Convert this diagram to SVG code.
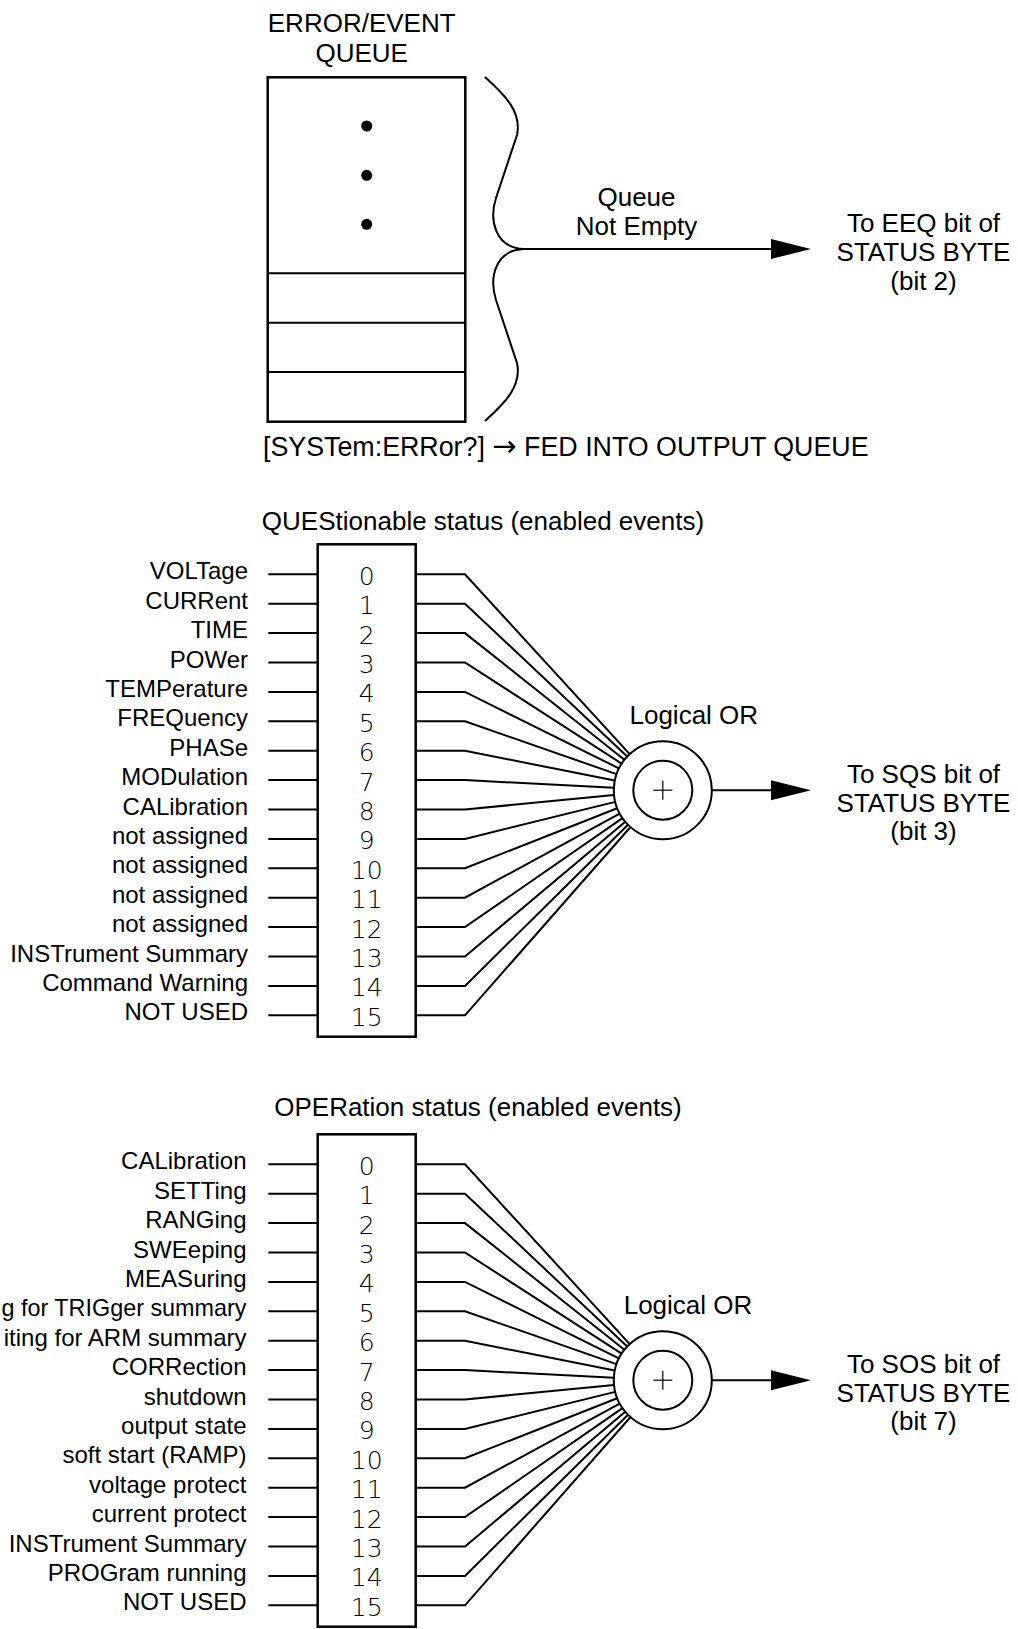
<svg xmlns="http://www.w3.org/2000/svg" width="1018" height="1629" viewBox="0 0 1018 1629">
<style>
text { font-family: "Liberation Sans", Arial, sans-serif; fill: #000; }
.t26 { font-size: 26px; }
.note { font-size: 26.8px; }
.mid { text-anchor: middle; }
.lbl { font-size: 24px; text-anchor: end; }
.num { font-family: "DejaVu Sans", sans-serif; font-weight: 200; font-size: 25px; text-anchor: middle; }
.arr { font-family: "DejaVu Sans", sans-serif; font-size: 29px; }
.box { fill: #fff; stroke: #000; stroke-width: 2.5; }
.ln { fill: none; stroke: #000; stroke-width: 2; }
.fan { fill: none; stroke: #000; stroke-width: 2; stroke-linejoin: miter; }
.orc { fill: #fff; stroke: #000; stroke-width: 2; }
.plus { stroke: #000; stroke-width: 1.2; }
.dot { fill: #000; }
</style>
<defs>
<marker id="ah" markerUnits="userSpaceOnUse" markerWidth="42" markerHeight="22" refX="1" refY="11" orient="auto">
<path d="M1,1 L41,11 L1,21 Z" fill="#000"/>
</marker>
</defs>
<rect width="1018" height="1629" fill="#fff"/>

<g id="error-queue">
<text class="t26 mid" x="361.7" y="32">ERROR/EVENT</text>
<text class="t26 mid" x="361.7" y="61.5">QUEUE</text>
<rect class="box" x="267.7" y="77.3" width="197.6" height="344.4"/>
<line class="ln" x1="267.7" y1="273.3" x2="465.3" y2="273.3"/>
<line class="ln" x1="267.7" y1="322.7" x2="465.3" y2="322.7"/>
<line class="ln" x1="267.7" y1="372" x2="465.3" y2="372"/>
<circle class="dot" cx="366.7" cy="126" r="5.5"/>
<circle class="dot" cx="366.7" cy="175.3" r="5.5"/>
<circle class="dot" cx="366.7" cy="224.3" r="5.5"/>
</g>

<g id="brace">
<path class="ln" d="M485,77 C505,95 522,112 517,135 L496,198 C489,220 495,248 524,249 C495,250 489,278 496,300 L517,363 C522,386 505,403 485,421"/>
</g>

<g id="queue-label">
<text class="t26 mid" x="636.5" y="205.7">Queue</text>
<text class="t26 mid" x="636.5" y="235">Not Empty</text>
</g>

<g id="eeq-target">
<text class="t26 mid" x="923.5" y="232">To EEQ bit of</text>
<text class="t26 mid" x="923.5" y="261">STATUS BYTE</text>
<text class="t26 mid" x="923.5" y="290">(bit 2)</text>
</g>

<g id="system-error-note">
<text class="note" x="263" y="456">[SYSTem:ERRor?] <tspan class="arr">→</tspan> FED INTO OUTPUT QUEUE</text>
</g>

<g id="connectors">
<line class="ln" x1="524" y1="249" x2="771" y2="249" marker-end="url(#ah)"/>
<g class="qin">
<line class="ln" x1="268.3" y1="574.3" x2="317.7" y2="574.3"/>
<line class="ln" x1="268.3" y1="603.7" x2="317.7" y2="603.7"/>
<line class="ln" x1="268.3" y1="633.1" x2="317.7" y2="633.1"/>
<line class="ln" x1="268.3" y1="662.5" x2="317.7" y2="662.5"/>
<line class="ln" x1="268.3" y1="691.9" x2="317.7" y2="691.9"/>
<line class="ln" x1="268.3" y1="721.3" x2="317.7" y2="721.3"/>
<line class="ln" x1="268.3" y1="750.7" x2="317.7" y2="750.7"/>
<line class="ln" x1="268.3" y1="780.1" x2="317.7" y2="780.1"/>
<line class="ln" x1="268.3" y1="809.5" x2="317.7" y2="809.5"/>
<line class="ln" x1="268.3" y1="838.9" x2="317.7" y2="838.9"/>
<line class="ln" x1="268.3" y1="868.3" x2="317.7" y2="868.3"/>
<line class="ln" x1="268.3" y1="897.7" x2="317.7" y2="897.7"/>
<line class="ln" x1="268.3" y1="927.1" x2="317.7" y2="927.1"/>
<line class="ln" x1="268.3" y1="956.5" x2="317.7" y2="956.5"/>
<line class="ln" x1="268.3" y1="985.9" x2="317.7" y2="985.9"/>
<line class="ln" x1="268.3" y1="1015.3" x2="317.7" y2="1015.3"/>
</g>
<g class="qfan">
<polyline class="fan" points="415.7,574.3 465,574.3 629.7,754.1"/>
<polyline class="fan" points="415.7,603.7 465,603.7 627.2,756.6"/>
<polyline class="fan" points="415.7,633.1 465,633.1 624.4,759.7"/>
<polyline class="fan" points="415.7,662.5 465,662.5 621.6,763.6"/>
<polyline class="fan" points="415.7,691.9 465,691.9 618.9,768.4"/>
<polyline class="fan" points="415.7,721.3 465,721.3 616.5,774.1"/>
<polyline class="fan" points="415.7,750.7 465,750.7 614.7,780.6"/>
<polyline class="fan" points="415.7,780.1 465,780.1 613.9,787.7"/>
<polyline class="fan" points="415.7,809.5 465,809.5 614.0,795.0"/>
<polyline class="fan" points="415.7,838.9 465,838.9 615.2,801.9"/>
<polyline class="fan" points="415.7,868.3 465,868.3 617.2,808.2"/>
<polyline class="fan" points="415.7,897.7 465,897.7 619.7,813.6"/>
<polyline class="fan" points="415.7,927.1 465,927.1 622.5,818.1"/>
<polyline class="fan" points="415.7,956.5 465,956.5 625.3,821.7"/>
<polyline class="fan" points="415.7,985.9 465,985.9 628.0,824.7"/>
<polyline class="fan" points="415.7,1015.3 465,1015.3 630.5,827.0"/>
</g>
<line class="ln" x1="711.8" y1="790.2" x2="771" y2="790.2" marker-end="url(#ah)"/>
<g class="oin">
<line class="ln" x1="268.3" y1="1164.3" x2="317.7" y2="1164.3"/>
<line class="ln" x1="268.3" y1="1193.7" x2="317.7" y2="1193.7"/>
<line class="ln" x1="268.3" y1="1223.1" x2="317.7" y2="1223.1"/>
<line class="ln" x1="268.3" y1="1252.5" x2="317.7" y2="1252.5"/>
<line class="ln" x1="268.3" y1="1281.9" x2="317.7" y2="1281.9"/>
<line class="ln" x1="268.3" y1="1311.3" x2="317.7" y2="1311.3"/>
<line class="ln" x1="268.3" y1="1340.7" x2="317.7" y2="1340.7"/>
<line class="ln" x1="268.3" y1="1370.1" x2="317.7" y2="1370.1"/>
<line class="ln" x1="268.3" y1="1399.5" x2="317.7" y2="1399.5"/>
<line class="ln" x1="268.3" y1="1428.9" x2="317.7" y2="1428.9"/>
<line class="ln" x1="268.3" y1="1458.3" x2="317.7" y2="1458.3"/>
<line class="ln" x1="268.3" y1="1487.7" x2="317.7" y2="1487.7"/>
<line class="ln" x1="268.3" y1="1517.1" x2="317.7" y2="1517.1"/>
<line class="ln" x1="268.3" y1="1546.5" x2="317.7" y2="1546.5"/>
<line class="ln" x1="268.3" y1="1575.9" x2="317.7" y2="1575.9"/>
<line class="ln" x1="268.3" y1="1605.3" x2="317.7" y2="1605.3"/>
</g>
<g class="ofan">
<polyline class="fan" points="415.7,1164.3 465,1164.3 629.7,1344.1"/>
<polyline class="fan" points="415.7,1193.7 465,1193.7 627.2,1346.6"/>
<polyline class="fan" points="415.7,1223.1 465,1223.1 624.4,1349.7"/>
<polyline class="fan" points="415.7,1252.5 465,1252.5 621.6,1353.6"/>
<polyline class="fan" points="415.7,1281.9 465,1281.9 618.9,1358.4"/>
<polyline class="fan" points="415.7,1311.3 465,1311.3 616.5,1364.1"/>
<polyline class="fan" points="415.7,1340.7 465,1340.7 614.7,1370.6"/>
<polyline class="fan" points="415.7,1370.1 465,1370.1 613.9,1377.7"/>
<polyline class="fan" points="415.7,1399.5 465,1399.5 614.0,1385.0"/>
<polyline class="fan" points="415.7,1428.9 465,1428.9 615.2,1391.9"/>
<polyline class="fan" points="415.7,1458.3 465,1458.3 617.2,1398.2"/>
<polyline class="fan" points="415.7,1487.7 465,1487.7 619.7,1403.6"/>
<polyline class="fan" points="415.7,1517.1 465,1517.1 622.5,1408.1"/>
<polyline class="fan" points="415.7,1546.5 465,1546.5 625.3,1411.7"/>
<polyline class="fan" points="415.7,1575.9 465,1575.9 628.0,1414.7"/>
<polyline class="fan" points="415.7,1605.3 465,1605.3 630.5,1417.0"/>
</g>
<line class="ln" x1="711.8" y1="1380.2" x2="771" y2="1380.2" marker-end="url(#ah)"/>
</g>

<g id="ques-register">
<text class="t26 mid" x="483" y="530">QUEStionable status (enabled events)</text>
<rect class="box" x="317.7" y="544.3" width="98" height="492.4"/>
<text class="num" x="366.7" y="584.8">0</text>
<text class="num" x="366.7" y="614.2">1</text>
<text class="num" x="366.7" y="643.6">2</text>
<text class="num" x="366.7" y="673">3</text>
<text class="num" x="366.7" y="702.4">4</text>
<text class="num" x="366.7" y="731.8">5</text>
<text class="num" x="366.7" y="761.2">6</text>
<text class="num" x="366.7" y="790.6">7</text>
<text class="num" x="366.7" y="820">8</text>
<text class="num" x="366.7" y="849.4">9</text>
<text class="num" x="366.7" y="878.8">10</text>
<text class="num" x="366.7" y="908.2">11</text>
<text class="num" x="366.7" y="937.6">12</text>
<text class="num" x="366.7" y="967">13</text>
<text class="num" x="366.7" y="996.4">14</text>
<text class="num" x="366.7" y="1025.8">15</text>
</g>

<g id="ques-labels">
<text class="lbl" x="248" y="579.3">VOLTage</text>
<text class="lbl" x="248" y="608.7">CURRent</text>
<text class="lbl" x="248" y="638.1">TIME</text>
<text class="lbl" x="248" y="667.5">POWer</text>
<text class="lbl" x="248" y="696.9">TEMPerature</text>
<text class="lbl" x="248" y="726.3">FREQuency</text>
<text class="lbl" x="248" y="755.7">PHASe</text>
<text class="lbl" x="248" y="785.1">MODulation</text>
<text class="lbl" x="248" y="814.5">CALibration</text>
<text class="lbl" x="248" y="843.9">not assigned</text>
<text class="lbl" x="248" y="873.3">not assigned</text>
<text class="lbl" x="248" y="902.7">not assigned</text>
<text class="lbl" x="248" y="932.1">not assigned</text>
<text class="lbl" x="248" y="961.5">INSTrument Summary</text>
<text class="lbl" x="248" y="990.9">Command Warning</text>
<text class="lbl" x="248" y="1020.3">NOT USED</text>
</g>

<g id="ques-or">
<text class="t26 mid" x="693.8" y="724">Logical OR</text>
<circle class="orc" cx="662.8" cy="790.2" r="49"/>
<circle class="orc" cx="662.8" cy="790.2" r="29.5"/>
<line class="plus" x1="653.3" y1="790.2" x2="672.3" y2="790.2"/>
<line class="plus" x1="662.8" y1="780.7" x2="662.8" y2="799.7"/>
</g>

<g id="sqs-target">
<text class="t26 mid" x="923.5" y="783.3">To SQS bit of</text>
<text class="t26 mid" x="923.5" y="811.7">STATUS BYTE</text>
<text class="t26 mid" x="923.5" y="840.3">(bit 3)</text>
</g>

<g id="oper-register">
<text class="t26 mid" x="478" y="1116">OPERation status (enabled events)</text>
<rect class="box" x="317.7" y="1134.3" width="98" height="492.4"/>
<text class="num" x="366.7" y="1174.8">0</text>
<text class="num" x="366.7" y="1204.2">1</text>
<text class="num" x="366.7" y="1233.6">2</text>
<text class="num" x="366.7" y="1263">3</text>
<text class="num" x="366.7" y="1292.4">4</text>
<text class="num" x="366.7" y="1321.8">5</text>
<text class="num" x="366.7" y="1351.2">6</text>
<text class="num" x="366.7" y="1380.6">7</text>
<text class="num" x="366.7" y="1410">8</text>
<text class="num" x="366.7" y="1439.4">9</text>
<text class="num" x="366.7" y="1468.8">10</text>
<text class="num" x="366.7" y="1498.2">11</text>
<text class="num" x="366.7" y="1527.6">12</text>
<text class="num" x="366.7" y="1557">13</text>
<text class="num" x="366.7" y="1586.4">14</text>
<text class="num" x="366.7" y="1615.8">15</text>
</g>

<g id="oper-labels">
<text class="lbl" x="246.5" y="1169.3">CALibration</text>
<text class="lbl" x="246.5" y="1198.7">SETTing</text>
<text class="lbl" x="246.5" y="1228.1">RANGing</text>
<text class="lbl" x="246.5" y="1257.5">SWEeping</text>
<text class="lbl" x="246.5" y="1286.9">MEASuring</text>
<text class="lbl" x="246.5" y="1316.3" textLength="245" lengthAdjust="spacingAndGlyphs">g for TRIGger summary</text>
<text class="lbl" x="246.5" y="1345.7">iting for ARM summary</text>
<text class="lbl" x="246.5" y="1375.1">CORRection</text>
<text class="lbl" x="246.5" y="1404.5">shutdown</text>
<text class="lbl" x="246.5" y="1433.9">output state</text>
<text class="lbl" x="246.5" y="1463.3">soft start (RAMP)</text>
<text class="lbl" x="246.5" y="1492.7">voltage protect</text>
<text class="lbl" x="246.5" y="1522.1">current protect</text>
<text class="lbl" x="246.5" y="1551.5">INSTrument Summary</text>
<text class="lbl" x="246.5" y="1580.9">PROGram running</text>
<text class="lbl" x="246.5" y="1610.3">NOT USED</text>
</g>

<g id="oper-or">
<text class="t26 mid" x="688" y="1314">Logical OR</text>
<circle class="orc" cx="662.8" cy="1380.2" r="49"/>
<circle class="orc" cx="662.8" cy="1380.2" r="29.5"/>
<line class="plus" x1="653.3" y1="1380.2" x2="672.3" y2="1380.2"/>
<line class="plus" x1="662.8" y1="1370.7" x2="662.8" y2="1389.7"/>
</g>

<g id="sos-target">
<text class="t26 mid" x="923.5" y="1373.3">To SOS bit of</text>
<text class="t26 mid" x="923.5" y="1401.7">STATUS BYTE</text>
<text class="t26 mid" x="923.5" y="1430.3">(bit 7)</text>
</g>
</svg>
